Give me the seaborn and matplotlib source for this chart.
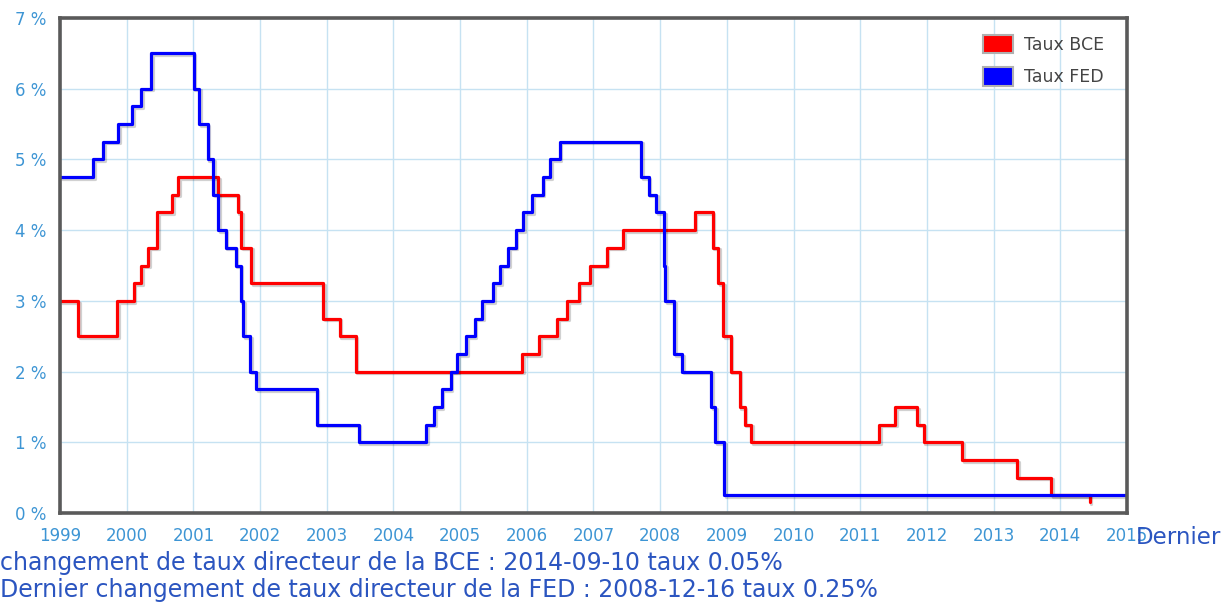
import matplotlib
matplotlib.use("Agg")
import matplotlib.pyplot as plt
import matplotlib.dates as mdates
import matplotlib.patheffects as pe
from matplotlib.patches import Patch
import pandas as pd
import seaborn as sns

# ---- data ----
dates_bce = ["1999-01-01", "1999-04-09", "1999-11-10", "2000-02-09", "2000-03-22", "2000-04-28",
             "2000-06-15", "2000-09-06", "2000-10-11", "2001-05-15", "2001-08-31", "2001-09-18",
             "2001-11-14", "2002-12-11", "2003-03-12", "2003-06-09", "2005-12-06", "2006-03-08",
             "2006-06-15", "2006-08-09", "2006-10-11", "2006-12-13", "2007-03-14", "2007-06-13",
             "2008-07-09", "2008-10-15", "2008-11-12", "2008-12-10", "2009-01-21", "2009-03-11",
             "2009-04-08", "2009-05-13", "2011-04-13", "2011-07-13", "2011-11-09", "2011-12-14",
             "2012-07-11", "2013-05-08", "2013-11-13", "2014-06-11"]
taux_bce = [3.0, 2.5, 3.0, 3.25, 3.5, 3.75,
            4.25, 4.5, 4.75, 4.5, 4.25, 3.75,
            3.25, 2.75, 2.5, 2.0, 2.25, 2.5,
            2.75, 3.0, 3.25, 3.5, 3.75, 4.0,
            4.25, 3.75, 3.25, 2.5, 2.0, 1.5,
            1.25, 1.0, 1.25, 1.5, 1.25, 1.0,
            0.75, 0.5, 0.25, 0.15]

dates_fed = ["1999-01-01", "1999-06-30", "1999-08-24", "1999-11-16", "2000-02-02", "2000-03-21",
             "2000-05-16", "2001-01-03", "2001-01-31", "2001-03-20", "2001-04-18", "2001-05-15",
             "2001-06-27", "2001-08-21", "2001-09-17", "2001-10-02", "2001-11-06", "2001-12-11",
             "2002-11-06", "2003-06-25", "2004-06-30", "2004-08-10", "2004-09-21", "2004-11-10",
             "2004-12-14", "2005-02-02", "2005-03-22", "2005-05-03", "2005-06-30", "2005-08-09",
             "2005-09-20", "2005-11-01", "2005-12-13", "2006-01-31", "2006-03-28", "2006-05-10",
             "2006-06-29", "2007-09-18", "2007-10-31", "2007-12-11", "2008-01-22", "2008-01-30",
             "2008-03-18", "2008-04-30", "2008-10-08", "2008-10-29", "2008-12-16", "2015-01-01"]
taux_fed = [4.75, 5.0, 5.25, 5.5, 5.75, 6.0,
            6.5, 6.0, 5.5, 5.0, 4.5, 4.0,
            3.75, 3.5, 3.0, 2.5, 2.0, 1.75,
            1.25, 1.0, 1.25, 1.5, 1.75, 2.0,
            2.25, 2.5, 2.75, 3.0, 3.25, 3.5,
            3.75, 4.0, 4.25, 4.5, 4.75, 5.0,
            5.25, 4.75, 4.5, 4.25, 3.5, 3.0,
            2.25, 2.0, 1.5, 1.0, 0.25, 0.25]

series = ["Taux BCE", "Taux FED"]
colors = ["#ff0000", "#0000ff"]
y_ticks = [0, 1, 2, 3, 4, 5, 6, 7]
y_labels = ["0 %", "1 %", "2 %", "3 %", "4 %", "5 %", "6 %", "7 %"]
footer_1 = "Dernier"
footer_2 = "changement de taux directeur de la BCE : 2014-09-10 taux 0.05%"
footer_3 = "Dernier changement de taux directeur de la FED : 2008-12-16 taux 0.25%"

df = pd.concat([
    pd.DataFrame({"date": pd.to_datetime(dates_bce), "taux": taux_bce, "serie": series[0]}),
    pd.DataFrame({"date": pd.to_datetime(dates_fed), "taux": taux_fed, "serie": series[1]}),
], ignore_index=True)

# ---- figure ----
sns.set_style("white")
plt.rcParams["font.family"] = ["DejaVu Sans"]

W, H = 1221, 602
fig = plt.figure(figsize=(W / 100, H / 100), dpi=100)
ax = fig.add_axes([60 / W, 1 - 513 / H, (1127 - 60) / W, (513 - 18) / H])

tick_color = "#3d95d4"
text_color = "#2b55c0"
grid_color = "#c6e2f2"

sns.lineplot(data=df, x="date", y="taux", hue="serie", hue_order=series,
             palette=dict(zip(series, colors)), drawstyle="steps-post",
             estimator=None, linewidth=2.3, legend=False, ax=ax,
             path_effects=[pe.SimpleLineShadow(offset=(1.2, -1.2), alpha=0.18, shadow_color="#000000"),
                           pe.Normal()])

ax.set_xlim(pd.Timestamp("1999-01-01"), pd.Timestamp("2015-01-01"))
ax.set_ylim(0, 7)
ax.xaxis.set_major_locator(mdates.YearLocator())
ax.xaxis.set_major_formatter(mdates.DateFormatter("%Y"))
ax.set_yticks(y_ticks)
ax.set_yticklabels(y_labels)
ax.set_xlabel("")
ax.set_ylabel("")
ax.grid(True, color=grid_color, linewidth=1.0)
ax.set_axisbelow(True)
ax.tick_params(axis="both", length=0, colors=tick_color, labelsize=12)
ax.tick_params(axis="y", pad=10)
ax.tick_params(axis="x", pad=10)
for s in ax.spines.values():
    s.set_visible(True)
    s.set_color("#5a5a5a")
    s.set_linewidth(2.6)

handles = [Patch(facecolor=c, edgecolor="#b0b0b0", linewidth=1.5) for c in colors]
leg = ax.legend(handles, series, loc="upper right", bbox_to_anchor=(0.993, 0.997),
                frameon=False, fontsize=12.5, handlelength=1.75, handleheight=1.25,
                handletextpad=0.6, labelspacing=0.75)
for t in leg.get_texts():
    t.set_color("#444444")

fig.text(1136 / W, 1 - 537 / H, footer_1, color=text_color, fontsize=16.5, va="center", ha="left")
fig.text(0 / W, 1 - 563 / H, footer_2, color=text_color, fontsize=17, va="center", ha="left")
fig.text(0 / W, 1 - 590 / H, footer_3, color=text_color, fontsize=17, va="center", ha="left")

fig.savefig("out.png", dpi=100)
